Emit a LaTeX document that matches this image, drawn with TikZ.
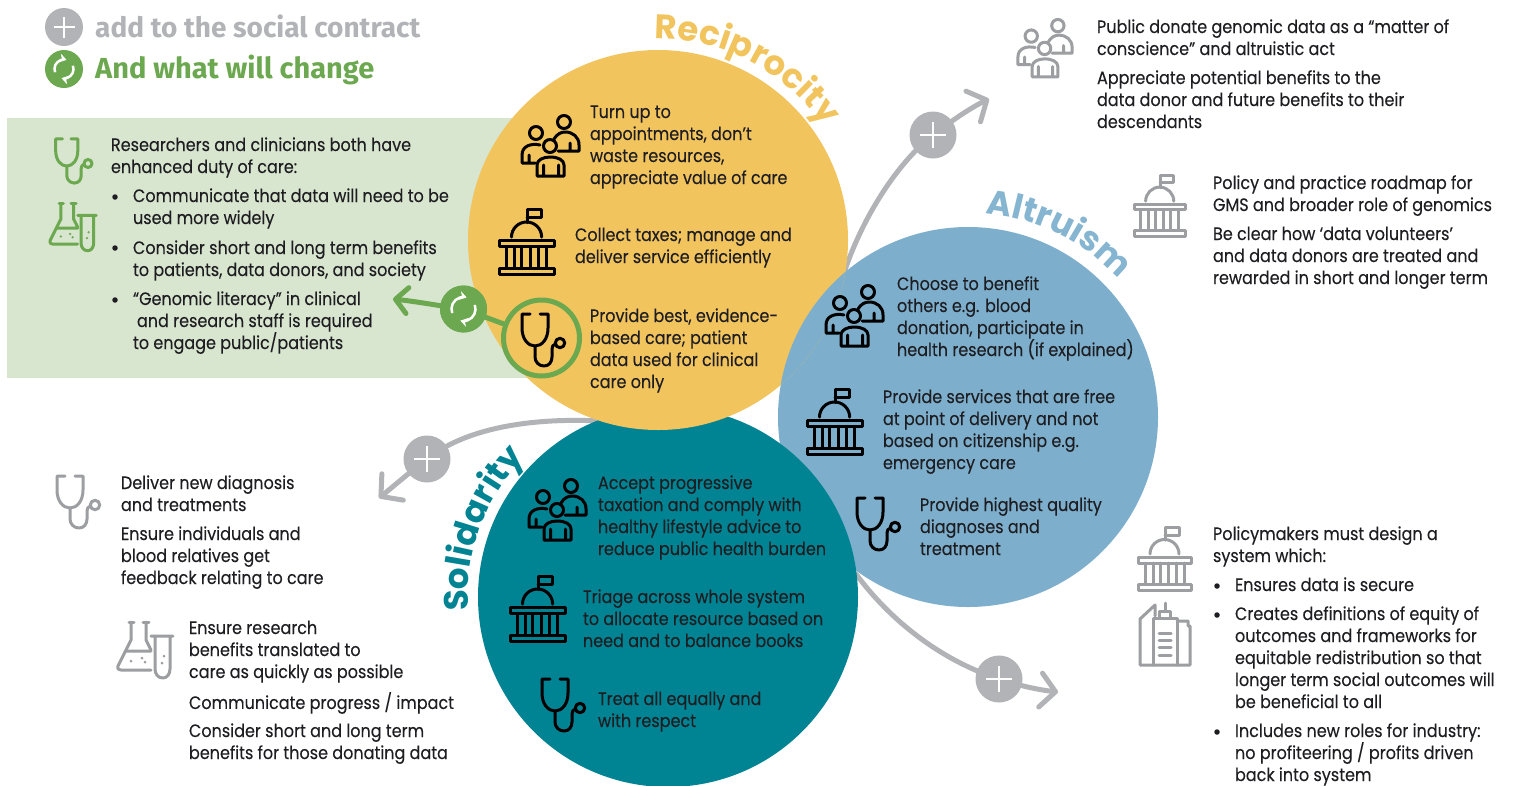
\documentclass[tikz,border=0pt]{standalone}
\usepackage{fontspec}
\usetikzlibrary{arrows.meta,decorations.text}
\setmainfont[FakeStretch=0.89,FakeBold=0.15]{Poppins}
\newfontfamily\legfont{Fira Sans}
\newfontfamily\hdfont{Poppins}
\definecolor{cyel}{HTML}{F2C45E}
\definecolor{cblu}{HTML}{7DAFCC}
\definecolor{cblt}{HTML}{85B5D0}
\definecolor{ctea}{HTML}{008393}
\definecolor{cgrn}{HTML}{6BA84F}
\definecolor{cgry}{HTML}{B2B3B7}
\definecolor{cicg}{HTML}{9C9EA1}
\definecolor{cban}{HTML}{D8E5CF}
\definecolor{ctxt}{HTML}{1E1E22}
\tikzset{
 txt/.style={anchor=north west,inner sep=0pt,outer sep=0pt,align=left,text=ctxt,font=\fontsize{18}{22}\selectfont},
 bul/.style={circle,fill=ctxt,inner sep=0pt,minimum size=5.5pt},
 circ/.style={circle,inner sep=0pt,minimum size=380pt},
 ic/.style={line width=3pt,line cap=round,line join=round},
 icn/.style={scale=#1,yscale=-1},
 icn/.default=1,
 arrg/.style={draw=cgry,line width=5pt,line cap=round,-{Straight Barb[length=15pt,width=34pt,round]}},
 lineg/.style={draw=cgrn,line width=5pt,line cap=round},
 arrn/.style={draw=cgrn,line width=5pt,line cap=round,-{Straight Barb[length=12pt,width=26pt,round]}},
 badge/.style={circle,inner sep=0pt,minimum size=47pt},
 pics/people/.style={code={
  \draw[ic,#1] (43,7) circle (6.5) (15,18) circle (6.5) (29,31) circle (6.5);
  \draw[ic,#1] (33,24) .. controls (36,19) and (40,17) .. (44,17) .. controls (52,17) and (58,22) .. (58,30) -- (58,36) -- (37,36) (49,28) -- (49,36);
  \draw[ic,#1] (19,30) .. controls (10,28) and (1,31) .. (1,40) -- (1,48) -- (14,48) (8,40) -- (8,48);
  \draw[ic,#1] (16,61) -- (16,50) .. controls (16,45) and (22,42) .. (29,42) .. controls (37,42) and (43,45) .. (43,50) -- (43,61) -- cycle (22.5,50) -- (22.5,61) (37.5,50) -- (37.5,61);
 }},
 pics/capitol/.style={code={
  \draw[ic,#1] (27,13) -- (27,0) -- (41,0) -- (41,8) -- (27,8);
  \draw[ic,#1] (12,27) arc[start angle=180,end angle=360,radius=14.5];
  \draw[ic,#1] (0,30) rectangle (53,36) (0,57) rectangle (53,63);
  \draw[ic,#1] (7,36) -- (7,57) (15,36) -- (15,57) (22,36) -- (22,57) (30,36) -- (30,57) (38,36) -- (38,57) (46,36) -- (46,57);
 }},
 pics/steth/.style={code={
  \draw[ic,#1] (10,1) -- (2,1) -- (2,15) .. controls (2,26) and (8,33) .. (15,33) .. controls (22,33) and (28,26) .. (28,15) -- (28,1) -- (20,1);
  \draw[ic,#1] (15,33) -- (15,44) .. controls (15,49) and (19,53) .. (24,53) .. controls (29,53) and (32,49) .. (32,44) -- (32,36) .. controls (32,33) and (33,32) .. (35.5,31);
  \draw[ic,#1] (40,30) circle (4.7);
 }},
 pics/flask/.style={code={
  \draw[ic,#1] (11,2) -- (16,2) (25,2) -- (31,2);
  \draw[ic,#1] (13,2) -- (13,20) -- (0,46) .. controls (-1,49) and (1,50) .. (3,50) -- (33,50);
  \draw[ic,#1] (28,2) -- (28,20) -- (33,30) (8,31) -- (33,31);
  \draw[ic,#1] (33,16) -- (55,16) (37,16) -- (37,49) .. controls (37,54) and (40,58) .. (45,58) .. controls (49,58) and (52,54) .. (52,49) -- (52,16);
  \fill[#1] (13,41) circle (1.5) (24,38) circle (1.5) (27,42) circle (1.5) (44,43) circle (1.5) (46,36) circle (1.5);
 }},
 pics/city/.style={code={
  \draw[ic,#1] (1,62) -- (1,16) -- (16,2) -- (16,13) (1,62) -- (51,62) -- (51,23) -- (49,23) -- (49,18) -- (38,18);
  \draw[ic,#1] (14,62) -- (14,15) -- (38,15) -- (38,62) (20,15) -- (20,8) -- (31,8) -- (31,15) (26,8) -- (26,0);
  \draw[ic,#1] (20,30) -- (32,30) (20,37) -- (32,37) (20,44) -- (32,44) (20,52) -- (32,52);
 }},
 pics/plussign/.style={code={
  \draw[white,line width=2.5pt] (-#1,0) -- (#1,0) (0,-#1) -- (0,#1);
 }},
 pics/refreshsign/.style={code={
  \draw[white,line width=2.5pt,-{Stealth[length=7pt,width=9pt]}] (160:#1) arc[start angle=160,end angle=285,radius=#1];
  \draw[white,line width=2.5pt,-{Stealth[length=7pt,width=9pt]}] (-20:#1) arc[start angle=-20,end angle=105,radius=#1];
 }},
}
\newcommand{\tb}[4]{\node[txt] (#1) at (#2,#3-8) {\rule{0pt}{14pt}#4};}
\begin{document}
\begin{tikzpicture}[x=1pt,y=1pt,yscale=-1]
\useasboundingbox (0,0) rectangle (1514,785);
\fill[white] (0,0) rectangle (1514,785);
\fill[cban] (7,118) rectangle (540,378);
% hidden anchors of the connectors
\coordinate (a1s) at (845,270); \coordinate (a1t) at (989,99);
\coordinate (a2s) at (600,421); \coordinate (a2t) at (379,498);
\coordinate (a3s) at (856,574); \coordinate (a3t) at (1058,692);
\coordinate (a4t) at (393,299);
\coordinate (p1c) at (933,135); \coordinate (p2c) at (427,459); \coordinate (p3c) at (999,679);
\draw[arrg] (a1s) .. controls (862,220) and (895,165) .. (p1c) .. controls (950,122) and (970,108) .. (a1t);
\draw[arrg] (a2s) .. controls (540,418) and (470,425) .. (p2c) .. controls (410,472) and (395,485) .. (a2t);
\draw[arrg] (a3s) .. controls (890,620) and (940,660) .. (p3c) .. controls (1020,686) and (1040,690) .. (a3t);
% the three circles overlap cyclically
\node[circ,fill=cblu] (blue) at (968,417) {};
\node[circ,fill=ctea] (teal) at (668,597) {};
\node[circ,fill=cyel] (yellow) at (658,240) {};
\begin{scope}
 \clip (968,417) circle (190);
 \fill[cblu] (658,240) circle (190);
\end{scope}
% badges
\node[badge,fill=cgry] (p1) at (p1c) {};
\node[badge,fill=cgry] (p2) at (p2c) {};
\node[badge,fill=cgry] (p3) at (p3c) {};
\pic at (p1) {plussign=13};
\pic at (p2) {plussign=13};
\pic at (p3) {plussign=13};
% green link
\node[circle,draw=cgrn,line width=5pt,inner sep=0pt,minimum size=76pt] (ring) at (541.5,338) {};
\node[badge,fill=cgrn] (gr) at (463.5,309) {};
\draw[lineg] (ring) -- (gr);
\draw[arrn] (gr.center) .. controls (440,306) and (420,302) .. (a4t);
\node[badge,fill=cgrn] (gr2) at (463.5,309) {};
\pic[yscale=-1] at (gr2) {refreshsign=12};
% legend
\node[circle,fill=cgry,inner sep=0pt,minimum size=38pt] (lg1) at (64,27) {};
\pic at (lg1) {plussign=10.5};
\node[circle,fill=cgrn,inner sep=0pt,minimum size=38pt] (lg2) at (64,69) {};
\pic[yscale=-1] at (lg2) {refreshsign=9.5};
\node[anchor=base west,inner sep=0pt,text=cgry,font=\legfont\fontsize{28}{30}\selectfont\bfseries] (lt1) at (95,37) {add to the social contract};
\node[anchor=base west,inner sep=0pt,text=cgrn,font=\legfont\fontsize{29}{30}\selectfont\bfseries] (lt2) at (95,78) {And what will change};
% curved headings
\begin{scope}[yscale=-1]
\path[decorate,decoration={text along path,text align=fit to path,text={|\hdfont\bfseries\fontsize{34}{34}\selectfont\color{cyel}|Reciprocity}}]
  (658,-240) ++(91:201) arc[start angle=91,end angle=36,radius=201];
\path[decorate,decoration={text along path,text align=fit to path,text={|\hdfont\bfseries\fontsize{34}{34}\selectfont\color{cblt}|Altruism}}]
  (968,-417) ++(85:204) arc[start angle=85,end angle=43,radius=204];
\path[decorate,decoration={text along path,text align=fit to path,text={|\hdfont\bfseries\fontsize{34}{34}\selectfont\color{ctea}|Solidarity}}]
  (668,-597) ++(184:200) arc[start angle=184,end angle=138,radius=200];
\end{scope}
% icons
\pic[icn] at (521,115) {people=black};
\pic[icn=1.04] at (499,209) {capitol=black};
\pic[icn] at (520,313) {steth=black};
\pic[icn] at (825,285) {people=black};
\pic[icn=1.04] at (807,389) {capitol=black};
\pic[icn] at (855,497) {steth=black};
\pic[icn] at (528,479) {people=black};
\pic[icn=1.04] at (510,576) {capitol=black};
\pic[icn] at (540,678) {steth=black};
\pic[icn=.85] at (54,138) {steth=cgrn};
\pic[icn=.84] at (50,202) {flask=cgrn};
\pic[icn=.95] at (1017,19) {people=cicg};
\pic[icn=.97] at (1134,175) {capitol=cicg};
\pic[icn] at (55,475) {steth=cicg};
\pic[icn] at (118,620) {flask=cicg};
\pic[icn] at (1138,527) {capitol=cicg};
\pic[icn] at (1139,603) {city=cicg};
% circle texts
\tb{y1}{590}{112}{Turn up to\\appointments, don't\\waste resources,\\appreciate value of care}
\tb{y2}{575}{235}{Collect taxes; manage and\\deliver service efficiently}
\tb{y3}{590}{316}{Provide best, evidence-\\based care; patient\\data used for clinical\\care only}
\tb{b1}{897}{284}{Choose to benefit\\others e.g. blood\\donation, participate in\\health research (if explained)}
\tb{b2}{883}{397}{Provide services that are free\\at point of delivery and not\\based on citizenship e.g.\\emergency care}
\tb{b3}{920}{505}{Provide highest quality\\diagnoses and\\treatment}
\tb{t1}{598}{483}{Accept progressive\\taxation and comply with\\healthy lifestyle advice to\\reduce public health burden}
\tb{t2}{583}{597}{Triage across whole system\\to allocate resource based on\\need and to balance books}
\tb{t3}{598}{699}{Treat all equally and\\with respect}
% green panel
\tb{g1}{111}{145}{Researchers and clinicians both have\\enhanced duty of care:}
\node[bul] (gb1) at (115,197) {};
\tb{g2}{133}{196}{Communicate that data will need to be\\used more widely}
\node[bul] (gb2) at (115,248) {};
\tb{g3}{133}{248}{Consider short and long term benefits\\to patients, data donors, and society}
\node[bul] (gb3) at (115,300) {};
\tb{g4}{133}{299}{“Genomic literacy” in clinical\\\hspace*{4pt}and research staff is required\\to engage public/patients}
% bottom left
\tb{l1}{121}{483}{Deliver new diagnosis\\and treatments}
\tb{l2}{121}{534}{Ensure individuals and\\blood relatives get\\feedback relating to care}
\tb{l3}{189}{628}{Ensure research\\benefits translated to\\care as quickly as possible}
\tb{l4}{189}{700}{Communicate progress / impact}
\tb{l5}{189}{731}{Consider short and long term\\benefits for those donating data}
% right side
\tb{r1}{1097}{27}{Public donate genomic data as a “matter of\\conscience” and altruistic act}
\tb{r2}{1097}{78}{Appreciate potential benefits to the\\data donor and future benefits to their\\descendants}
\tb{r3}{1213}{183}{Policy and practice roadmap for\\GMS and broader role of genomics}
\tb{r4}{1213}{234}{Be clear how ‘data volunteers’\\and data donors are treated and\\rewarded in short and longer term}
\tb{r5}{1213}{534}{Policymakers must design a\\system which:}
\node[bul] (rb1) at (1217,586) {};
\tb{r6}{1235}{585}{Ensures data is secure}
\node[bul] (rb2) at (1217,615) {};
\tb{r7}{1235}{614}{Creates definitions of equity of\\outcomes and frameworks for\\equitable redistribution so that\\longer term social outcomes will\\be beneficial to all}
\node[bul] (rb3) at (1217,732) {};
\tb{r8}{1235}{731}{Includes new roles for industry:\\no profiteering / profits driven\\back into system}
\end{tikzpicture}
\end{document}
